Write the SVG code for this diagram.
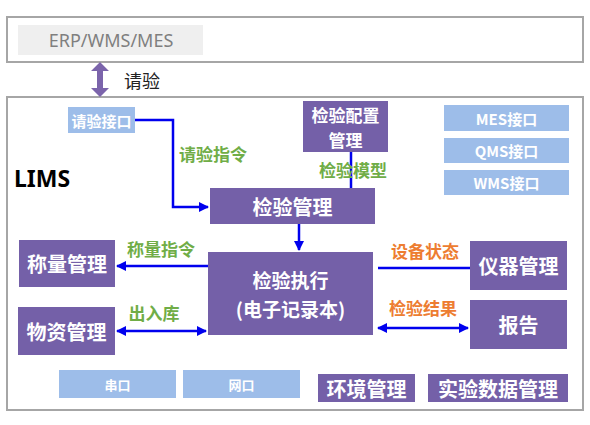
<svg xmlns="http://www.w3.org/2000/svg" width="590" height="425" viewBox="0 0 590 425">
<defs>
<marker id="ah" viewBox="0 0 10 10" refX="9" refY="5" markerWidth="4" markerHeight="4" orient="auto-start-reverse" markerUnits="strokeWidth">
<path d="M0,0 L10,5 L0,10 z" fill="#0000ee"/>
</marker>
<style>
.pbox{fill:#7460a8}
.lbox{fill:#9dbde9}
.wt{font-family:"Noto Sans CJK SC","Noto Sans",sans-serif;font-weight:bold;fill:#fff;text-anchor:middle;dominant-baseline:central}
.gl{font-family:"Noto Sans CJK SC",sans-serif;font-weight:bold;fill:#70ad47;font-size:17px;text-anchor:middle;dominant-baseline:central}
.ol{font-family:"Noto Sans CJK SC",sans-serif;font-weight:bold;fill:#ed7d31;font-size:17px;text-anchor:middle;dominant-baseline:central}
.conn{stroke:#0000ee;stroke-width:2.5;fill:none}
</style>
</defs>
<rect width="590" height="425" fill="#fff"/>
<g id="erp-frame">
<rect x="7" y="17" width="576" height="45" fill="#fff" stroke="#a6a6a6" stroke-width="2"/>
<rect x="18" y="25" width="185" height="30" fill="#efefef"/>
<text x="111" y="40" font-family="Noto Sans, sans-serif" font-size="18" fill="#7f7f7f" text-anchor="middle" dominant-baseline="central">ERP/WMS/MES</text>
</g>
<g id="lims-frame">
<rect x="7" y="97" width="576" height="313" fill="#fff" stroke="#a6a6a6" stroke-width="2"/>
<text x="14" y="178" font-family="Noto Sans, sans-serif" font-weight="bold" font-size="23" fill="#000" dominant-baseline="central">LIMS</text>
</g>
<g id="qingyan-arrow">
<path d="M100,62 L109,71 L103,71 L103,88 L109,88 L100,97 L91,88 L97,88 L97,71 L91,71 Z" fill="#7b64ab"/>
<text x="142" y="80" font-family="Noto Sans CJK SC, sans-serif" font-size="18" fill="#222" text-anchor="middle" dominant-baseline="central">请验</text>
</g>
<g id="qingyan-jiekou"><rect class="lbox" x="68" y="107" width="67" height="26"/><text class="wt" x="101.5" y="120" font-size="15">请验接口</text></g>
<g id="peizhi"><rect class="pbox" x="303" y="101" width="85" height="51"/><text class="wt" x="345.5" y="114" font-size="17">检验配置</text><text class="wt" x="345.5" y="139" font-size="17">管理</text></g>
<g id="mes"><rect class="lbox" x="444" y="105" width="125" height="26"/><text class="wt" x="506.5" y="118" font-size="15">MES接口</text></g>
<g id="qms"><rect class="lbox" x="444" y="138" width="125" height="25"/><text class="wt" x="506.5" y="150.5" font-size="15">QMS接口</text></g>
<g id="wms"><rect class="lbox" x="444" y="170" width="125" height="25"/><text class="wt" x="506.5" y="182.5" font-size="15">WMS接口</text></g>
<g id="guanli"><rect class="pbox" x="210" y="188" width="165" height="36"/><text class="wt" x="292.5" y="206" font-size="20">检验管理</text></g>
<g id="zhixing"><rect class="pbox" x="208" y="252" width="165" height="83"/><text class="wt" x="290.5" y="279" font-size="19">检验执行</text><text class="wt" x="290.5" y="308" font-size="19">(电子记录本)</text></g>
<g id="chengliang"><rect class="pbox" x="19" y="240" width="96" height="47"/><text class="wt" x="67" y="263.5" font-size="20">称量管理</text></g>
<g id="wuzi"><rect class="pbox" x="18" y="307" width="97" height="48"/><text class="wt" x="66.5" y="331" font-size="20">物资管理</text></g>
<g id="yiqi"><rect class="pbox" x="470" y="241" width="97" height="49"/><text class="wt" x="518.5" y="265.5" font-size="20">仪器管理</text></g>
<g id="baogao"><rect class="pbox" x="470" y="300" width="97" height="49"/><text class="wt" x="518.5" y="324.5" font-size="20">报告</text></g>
<g id="chuankou"><rect class="lbox" x="59" y="370" width="117" height="28"/><text class="wt" x="117.5" y="384" font-size="13">串口</text></g>
<g id="wangkou"><rect class="lbox" x="183" y="370" width="117" height="28"/><text class="wt" x="241.5" y="384" font-size="13">网口</text></g>
<g id="huanjing"><rect class="pbox" x="318" y="374" width="97" height="28"/><text class="wt" x="366.5" y="388" font-size="20">环境管理</text></g>
<g id="shiyan"><rect class="pbox" x="428" y="374" width="140" height="28"/><text class="wt" x="498" y="388" font-size="20">实验数据管理</text></g>
<g id="connectors">
<path class="conn" d="M135,120 H173 V207 H208" marker-end="url(#ah)"/>
<path class="conn" d="M351,152 V188"/>
<path class="conn" d="M299,224 V250" marker-end="url(#ah)"/>
<path class="conn" d="M208,266 H117" marker-end="url(#ah)"/>
<path class="conn" d="M117,331 H206" marker-start="url(#ah)" marker-end="url(#ah)"/>
<path class="conn" d="M378,268 H470"/>
<path class="conn" d="M378,328 H468" marker-start="url(#ah)" marker-end="url(#ah)"/>
</g>
<g id="labels">
<text class="gl" x="213" y="153">请验指令</text>
<text class="gl" x="353" y="169">检验模型</text>
<text class="gl" x="161" y="248">称量指令</text>
<text class="gl" x="154" y="312">出入库</text>
<text class="ol" x="425" y="250">设备状态</text>
<text class="ol" x="423" y="307">检验结果</text>
</g>
</svg>
